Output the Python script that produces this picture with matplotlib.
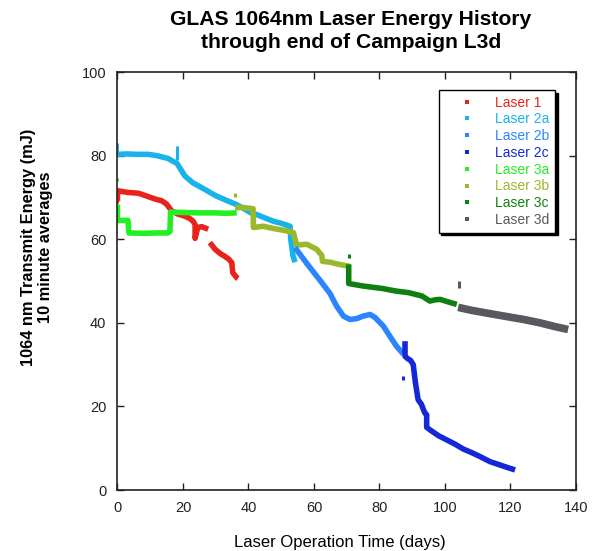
import numpy as np
import matplotlib
matplotlib.use('Agg')
import matplotlib.pyplot as plt
from matplotlib.lines import Line2D

nan = np.nan

# data (days, mJ); nan breaks a trace
laser1_x = [0, 0, 3, 6.4, 9, 11.5, 13.5, 15, 16.5, 18.5, 20.6, 22, 23.1, 23.7, 23.7, 24.5, 25.7, 27.7,
            nan, 28.2, 29.8, 31.5, 32.8, 34, 34.9, 35.2, 36.4, 36.8]
laser1_y = [69.1, 71.6, 71.2, 71.0, 70.3, 69.6, 69.2, 68.4, 66.8, 66.0, 65.5, 65.0, 64.3, 63.5, 60.2, 62.8, 63.0, 62.4,
            nan, 59.2, 57.6, 56.5, 55.9, 55.2, 54.4, 52.0, 50.8, 50.6]

laser2a_x = [0, 3, 6, 9.4, 12, 15.5, 17, 18.1, 20.6, 23, 26.7, 30, 33.8, 36, 38, 40.5,
             42.5, 45, 47.6, 50, 52.7, 52.9, 53.6, 54.2]
laser2a_y = [80.3, 80.4, 80.3, 80.3, 80.0, 79.3, 78.6, 78.2, 75.1, 73.5, 71.9, 70.4, 69.1, 68.4, 67.6, 66.4,
             65.9, 65.1, 64.3, 63.8, 63.1, 60.0, 56.0, 54.5]

laser2b_x = [54.2, 58, 62.4, 64.9, 66.9, 69, 71, 73, 75, 77.1, 78.6, 81.2, 83, 85.2, 87.3]
laser2b_y = [58.0, 54.0, 49.6, 47.0, 44.0, 41.6, 40.8, 41.0, 41.6, 42.0, 41.3, 39.2, 37.0, 34.4, 32.5]

laser2c_x = [87.8, 87.8, 88.5, 89.5, 90.3, 91, 91.8, 92.8, 93.8, 94.4, 94.4, 95.4, 98, 100.5,
             103, 105.6, 108, 110.7, 113.7, 116, 119, 121.4]
laser2c_y = [35.6, 32.0, 31.5, 31.0, 30.0, 25.5, 21.6, 20.5, 18.5, 18.0, 15.0, 14.4, 13.0, 12.0,
             11.0, 9.8, 9.0, 8.0, 6.8, 6.2, 5.4, 4.8]

laser3a_x = [0, 0, 3.2, 3.5, 8, 12, 15.4, 16, 16.2, 20, 25, 30, 33, 36.4]
laser3a_y = [68.3, 64.5, 64.5, 61.5, 61.4, 61.5, 61.5, 61.8, 66.5, 66.4, 66.3, 66.3, 66.2, 66.3]

laser3b_x = [35.9, 38, 41.4, 41.5, 44.5, 48, 51, 53.7, 54.7, 57.8, 60.8, 62.4, 62.6, 64.9, 67.5, 71]
laser3b_y = [67.5, 67.6, 67.3, 62.8, 63.1, 62.5, 62.1, 61.6, 58.6, 58.8, 57.6, 56.1, 54.7, 54.5, 54.0, 53.5]

laser3c_x = [70.6, 70.6, 72, 75, 78, 81, 85, 89, 93, 95.4, 97, 98.5, 101, 103.6]
laser3c_y = [54.0, 49.4, 49.2, 48.8, 48.5, 48.2, 47.6, 47.2, 46.4, 45.2, 45.5, 45.6, 45.0, 44.4]

laser3d_x = [104, 108, 113, 118.8, 124, 129, 133, 137.6]
laser3d_y = [43.7, 43.0, 42.3, 41.5, 40.8, 40.0, 39.2, 38.4]

# stray readings / short spikes, pairs split by nan
spike1_x, spike1_y = [0, 0], [68.7, 69.4]
spike2a_x = [0, 0, nan, 18.1, 18.1]
spike2a_y = [80.0, 82.9, nan, 79.0, 82.4]
spike2b_x, spike2b_y = [], []
spike2c_x, spike2c_y = [87.3, 87.3], [26.4, 27.2]
spike3a_x, spike3a_y = [0, 0], [73.9, 74.7]
spike3b_x, spike3b_y = [35.9, 35.9], [70.2, 71.1]
spike3c_x, spike3c_y = [70.6, 70.6], [55.5, 56.4]
spike3d_x, spike3d_y = [104.4, 104.4], [48.3, 50.0]

labels = ['Laser 1', 'Laser 2a', 'Laser 2b', 'Laser 2c', 'Laser 3a', 'Laser 3b', 'Laser 3c', 'Laser 3d']
colors = ['#e8231c', '#19b3ec', '#2a85ff', '#1428d8', '#22f022', '#9ab82c', '#0d800f', '#58585e']

series = [(laser1_x, laser1_y), (laser2a_x, laser2a_y), (laser2b_x, laser2b_y), (laser2c_x, laser2c_y),
          (laser3a_x, laser3a_y), (laser3b_x, laser3b_y), (laser3c_x, laser3c_y), (laser3d_x, laser3d_y)]
spikes = [(spike1_x, spike1_y), (spike2a_x, spike2a_y), (spike2b_x, spike2b_y), (spike2c_x, spike2c_y),
          (spike3a_x, spike3a_y), (spike3b_x, spike3b_y), (spike3c_x, spike3c_y), (spike3d_x, spike3d_y)]
widths = [4, 4, 4, 4, 4, 4, 4, 5.5]

plt.rcParams['font.family'] = ['Liberation Sans', 'DejaVu Sans']

fig = plt.figure(figsize=(5.97, 5.51), dpi=100)
ax = fig.add_axes([0.1968, 0.1107, 0.768, 0.7586])

# draw order: later lasers on top
order = [0, 1, 4, 5, 2, 3, 6, 7]
for i in order:
    x, y = series[i]
    ax.plot(x, y, color=colors[i], lw=widths[i], solid_capstyle='butt', solid_joinstyle='round')
    sx, sy = spikes[i]
    if sx:
        ax.plot(sx, sy, color=colors[i], lw=2.2, solid_capstyle='butt')

ax.set_xlim(0, 140)
ax.set_ylim(0, 100)
ax.set_xticks(range(0, 141, 20))
ax.set_yticks(range(0, 101, 20))
ax.tick_params(direction='in', top=True, right=True, length=5, width=1,
               labelsize=10.5, pad=8, colors='#222222')
for s in ax.spines.values():
    s.set_linewidth(1.2)
    s.set_color('#222222')

# legend with square markers and coloured text
handles = [Line2D([], [], ls='none', marker='s', ms=3, mew=0, color=c) for c in colors]
leg = ax.legend(handles, labels, loc='upper right', bbox_to_anchor=(0.954, 0.957), borderaxespad=0,
                fontsize=10, labelcolor=colors, frameon=True, fancybox=False,
                shadow={'color': 'black', 'alpha': 1}, borderpad=0.4, handlelength=3.3,
                handletextpad=0.35, labelspacing=0.2)
leg.get_frame().set_edgecolor('black')
leg.get_frame().set_linewidth(1)

fig.text(351 / 597, 1 - 31 / 551, 'GLAS 1064nm Laser Energy History\nthrough end of Campaign L3d',
         ha='center', va='center', fontsize=15.2, fontweight='bold', linespacing=1.3)
fig.text(37 / 597, 1 - 247 / 551, '1064 nm Transmit Energy (mJ)\n10 minute averages',
         ha='center', va='center', rotation=90, fontsize=11.8, fontweight='bold', multialignment='center')
fig.text(340 / 597, 1 - 543 / 551, 'Laser Operation Time (days)', ha='center', va='center', fontsize=12)

fig.savefig('out.png', dpi=100)
